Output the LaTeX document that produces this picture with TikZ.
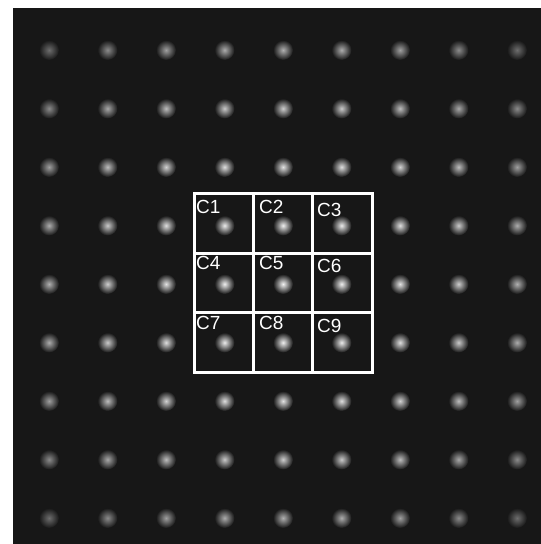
\documentclass[tikz,border=0pt]{standalone}
\usepackage{fontspec}
\setmainfont{Liberation Sans}
\usetikzlibrary{positioning}

\definecolor{bgdark}{RGB}{23,23,23}

\tikzset{
  cellline/.style={draw=white,line width=3pt},
  celllabel/.style={anchor=north west,inner sep=0pt,text=white,font=\fontsize{19}{19}\selectfont},
}

\begin{document}
\begin{tikzpicture}[x=1pt,y=-1pt]
\useasboundingbox (0,0) rectangle (541,544);
\fill[white] (0,0) rectangle (541,544);
\fill[bgdark] (13,8) rectangle (541,544);
% spot lattice, dimmer away from the centre
\foreach \i in {0,...,8}{
  \foreach \j in {0,...,8}{
    \pgfmathsetmacro{\lum}{95-1.8*((\i-4)^2+(\j-4)^2)}
    \shade[inner color=white!\lum!bgdark,outer color=bgdark] ({49+58.5*\i},{50+58.5*\j}) circle (10pt);
  }
}
% 3x3 cell grid
\draw[cellline] (194,193) rectangle (372,372);
\draw[cellline] (253,193) -- (253,372);
\draw[cellline] (312,193) -- (312,372);
\draw[cellline] (194,253) -- (372,253);
\draw[cellline] (194,312) -- (372,312);
% cell labels
\foreach \n/\x/\y in {1/196/200,2/259/200,3/317/203,4/196/256,5/259/256,6/317/259,7/196/316,8/259/316,9/317/319}{
  \node[celllabel] (c\n) at (\x,\y) {C\n};
}
\end{tikzpicture}
\end{document}
